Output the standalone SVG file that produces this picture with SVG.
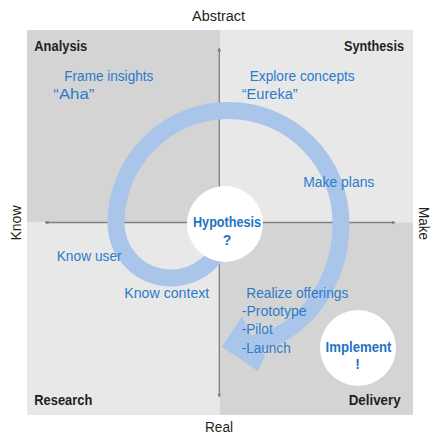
<svg xmlns="http://www.w3.org/2000/svg" width="439" height="439" viewBox="0 0 439 439">
<defs>
<style>
.ax{font-family:"Liberation Sans",Arial,sans-serif;font-size:14px;fill:#231f20}
.q{font-family:"Liberation Sans",Arial,sans-serif;font-size:14px;font-weight:bold;fill:#231f20}
.b{font-family:"Liberation Sans",Arial,sans-serif;font-size:14px;fill:#2b7bcb}
.bb{font-family:"Liberation Sans",Arial,sans-serif;font-size:14px;font-weight:bold;fill:#1f74c4}
.axis{stroke:#7f7f7f;stroke-width:1.3;fill:none}
</style>
<marker id="ah" viewBox="0 0 8 8" refX="7" refY="4" markerWidth="4" markerHeight="4" orient="auto-start-reverse" markerUnits="userSpaceOnUse">
<path d="M0,0 L8,4 L0,8 z" fill="#7f7f7f"/>
</marker>
</defs>
<rect width="439" height="439" fill="#ffffff"/>
<g id="quadrants">
<rect x="27" y="30" width="193" height="192.5" fill="#d4d4d4"/>
<rect x="220" y="30" width="193" height="192.5" fill="#e8e8e8"/>
<rect x="27" y="222.5" width="193" height="192.5" fill="#e8e8e8"/>
<rect x="220" y="222.5" width="193" height="192.5" fill="#d4d4d4"/>
</g>
<g id="connectors">
<line class="axis" x1="219.3" y1="222.5" x2="219.3" y2="48" marker-end="url(#ah)"/>
<line class="axis" x1="219.3" y1="222.5" x2="219.3" y2="397" marker-end="url(#ah)"/>
<line class="axis" x1="219.3" y1="222.5" x2="45" y2="222.5" marker-end="url(#ah)"/>
<line class="axis" x1="219.3" y1="222.5" x2="395" y2="222.5" marker-end="url(#ah)"/>
</g>
<g id="spiral">
<path d="M222.7 241.8 A55 55 0 0 1 116 223 A112.5 112.5 0 0 1 228.5 110.5 A112.5 112.5 0 0 1 341 223 C341 280 306 334 252 344" fill="none" stroke="#a9c5ea" stroke-width="17"/>
<polygon points="222,347 242,316 250,334 265,356 258,371" fill="#a9c5ea"/>
</g>
<g id="hypothesis">
<circle cx="225" cy="224" r="38" fill="#ffffff"/>
<text class="bb" x="227" y="227.3" text-anchor="middle" textLength="68" lengthAdjust="spacingAndGlyphs">Hypothesis</text>
<text class="bb" x="227" y="245" text-anchor="middle">?</text>
</g>
<g id="implement">
<circle cx="358" cy="348" r="38" fill="#ffffff"/>
<text class="bb" x="358.5" y="351.7" text-anchor="middle" textLength="66" lengthAdjust="spacingAndGlyphs">Implement</text>
<text class="bb" x="357.5" y="369" text-anchor="middle">!</text>
</g>
<g id="axis-labels">
<text class="ax" x="218.5" y="21" text-anchor="middle" textLength="53" lengthAdjust="spacingAndGlyphs">Abstract</text>
<text class="ax" x="219" y="432" text-anchor="middle" textLength="28" lengthAdjust="spacingAndGlyphs">Real</text>
<text class="ax" transform="translate(20.5,223) rotate(-90)" text-anchor="middle" textLength="35" lengthAdjust="spacingAndGlyphs">Know</text>
<text class="ax" transform="translate(419,223.5) rotate(90)" text-anchor="middle" textLength="33" lengthAdjust="spacingAndGlyphs">Make</text>
</g>
<g id="quadrant-labels">
<text class="q" x="34.3" y="50.5" textLength="53" lengthAdjust="spacingAndGlyphs">Analysis</text>
<text class="q" x="404" y="50.5" text-anchor="end" textLength="60" lengthAdjust="spacingAndGlyphs">Synthesis</text>
<text class="q" x="34.3" y="405" textLength="58" lengthAdjust="spacingAndGlyphs">Research</text>
<text class="q" x="400.7" y="405" text-anchor="end" textLength="52" lengthAdjust="spacingAndGlyphs">Delivery</text>
</g>
<g id="step-labels">
<text class="b" x="64.3" y="81" textLength="89" lengthAdjust="spacingAndGlyphs">Frame insights</text>
<text class="b" x="53.3" y="99" textLength="41" lengthAdjust="spacingAndGlyphs">“Aha”</text>
<text class="b" x="249.7" y="81" textLength="105" lengthAdjust="spacingAndGlyphs">Explore concepts</text>
<text class="b" x="241.7" y="99" textLength="56" lengthAdjust="spacingAndGlyphs">“Eureka”</text>
<text class="b" x="303.3" y="187" textLength="71" lengthAdjust="spacingAndGlyphs">Make plans</text>
<text class="b" x="56.7" y="261" textLength="65" lengthAdjust="spacingAndGlyphs">Know user</text>
<text class="b" x="124.3" y="297.5" textLength="85" lengthAdjust="spacingAndGlyphs">Know context</text>
<text class="b" x="246.3" y="297.5" textLength="102" lengthAdjust="spacingAndGlyphs">Realize offerings</text>
<text class="b" x="241.7" y="315.5" textLength="65" lengthAdjust="spacingAndGlyphs">-Prototype</text>
<text class="b" x="241.7" y="334" textLength="31" lengthAdjust="spacingAndGlyphs">-Pilot</text>
<text class="b" x="241.7" y="352.5" textLength="49" lengthAdjust="spacingAndGlyphs">-Launch</text>
</g>
</svg>
